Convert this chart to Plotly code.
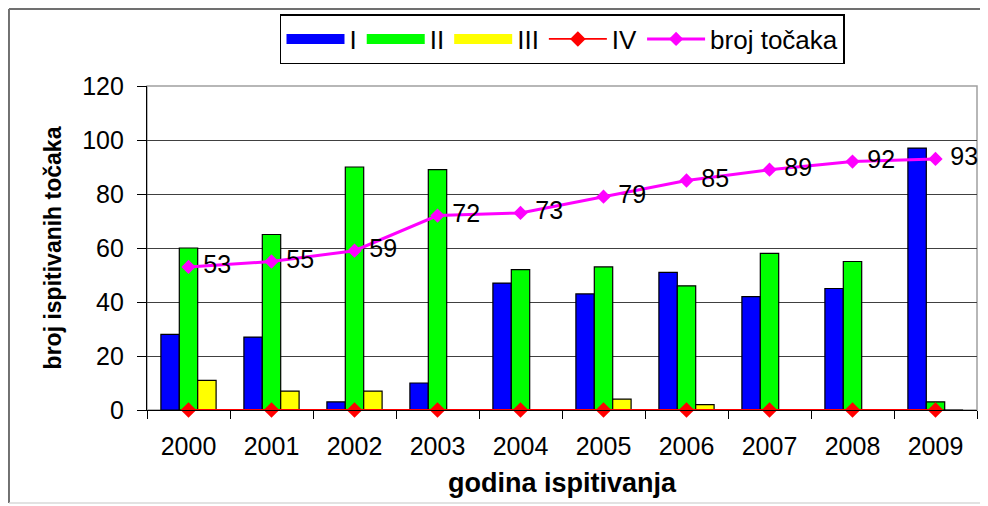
import plotly.graph_objects as go

years = ["2000", "2001", "2002", "2003", "2004", "2005", "2006", "2007", "2008", "2009"]
cat_I = [28, 27, 3, 10, 47, 43, 51, 42, 45, 97]
cat_II = [60, 65, 90, 89, 52, 53, 46, 58, 55, 3]
cat_III = [11, 7, 7, 0, 0, 4, 2, 0, 0, 0]
cat_IV = [0, 0, 0, 0, 0, 0, 0, 0, 0, 0]
broj_tocaka = [53, 55, 59, 72, 73, 79, 85, 89, 92, 93]
y_ticks = [0, 20, 40, 60, 80, 100, 120]

FONT = "Arial, Liberation Sans, sans-serif"

fig = go.Figure()

bar_series = [("I", cat_I, "#0000FF"), ("II", cat_II, "#00FF00"), ("III", cat_III, "#FFFF00")]
for name, vals, col in bar_series:
    fig.add_trace(go.Bar(x=years, y=vals, name=name, marker=dict(color=col, line=dict(color="black", width=1.2)),
                         showlegend=False, legendgroup=name))

fig.add_trace(go.Scatter(x=years, y=cat_IV, name="IV", mode="lines+markers",
                         line=dict(color="#FF0000", width=1.8),
                         marker=dict(symbol="diamond", size=12, color="#FF0000"),
                         cliponaxis=False, showlegend=False, legendgroup="IV"))
fig.add_trace(go.Scatter(x=years, y=broj_tocaka, name="broj točaka", mode="lines+markers+text",
                         line=dict(color="#FF00FF", width=3),
                         marker=dict(symbol="diamond", size=11, color="#FF00FF"),
                         text=[str(v) for v in broj_tocaka], texttemplate=" %{text}",
                         textposition="middle right",
                         textfont=dict(family=FONT, size=25, color="black"),
                         cliponaxis=False, showlegend=False, legendgroup="broj"))

# legend entries (wide swatches like the original)
for name, vals, col in bar_series:
    fig.add_trace(go.Scatter(x=[None], y=[None], name=name, mode="lines",
                             line=dict(color=col, width=13), legendgroup=name, showlegend=True))
fig.add_trace(go.Scatter(x=[None], y=[None], name="IV", mode="lines+markers",
                         line=dict(color="#FF0000", width=1.8),
                         marker=dict(symbol="diamond", size=12, color="#FF0000"),
                         legendgroup="IV", showlegend=True))
fig.add_trace(go.Scatter(x=[None], y=[None], name="broj točaka", mode="lines+markers",
                         line=dict(color="#FF00FF", width=3),
                         marker=dict(symbol="diamond", size=11, color="#FF00FF"),
                         legendgroup="broj", showlegend=True))

fig.update_layout(
    width=980, height=498,
    margin=dict(l=139, r=11, t=78, b=96, autoexpand=False),
    paper_bgcolor="white", plot_bgcolor="white",
    barmode="group", bargap=0.335, bargroupgap=0,
    font=dict(family=FONT, size=22, color="black"),
    legend=dict(orientation="h", x=0.5006, xanchor="center", y=1.222, yanchor="top",
                bordercolor="black", borderwidth=1.5, bgcolor="white",
                font=dict(family=FONT, size=26, color="black"), itemwidth=58,
                traceorder="normal"),
    xaxis=dict(type="category", range=[-0.5, len(years) - 0.5], showline=True, linecolor="black",
               linewidth=1.2, automargin=False,
               ticks="outside", tickson="boundaries", ticklen=8, tickcolor="black",
               ticklabelstandoff=14,
               tickfont=dict(family=FONT, size=25), showgrid=False,
               title=dict(text="godina ispitivanja", font=dict(family=FONT, size=27, weight="bold"), standoff=14)),
    yaxis=dict(range=[0, 120], tickvals=y_ticks, showline=True, linecolor="black", linewidth=1.2,
               automargin=False,
               ticks="outside", ticklen=9, tickcolor="black", ticklabelstandoff=8,
               tickfont=dict(family=FONT, size=25),
               showgrid=True, gridcolor="#404040", gridwidth=1, zeroline=False,
               title=dict(text="broj ispitivanih točaka", font=dict(family=FONT, size=23, weight="bold"), standoff=14)),
    shapes=[
        dict(type="rect", xref="paper", yref="paper", x0=0, x1=1, y0=0, y1=1,
             line=dict(color="#A0A0A0", width=1.5), layer="between"),
        # outer chart frame: dark left/top, faint bottom
        dict(type="line", xref="paper", yref="paper", x0=-0.1663, x1=-0.1663, y0=-0.287, y1=1.2377,
             line=dict(color="#707070", width=2), layer="below"),
        dict(type="line", xref="paper", yref="paper", x0=-0.1663, x1=1.1, y0=1.2377, y1=1.2377,
             line=dict(color="#707070", width=2), layer="below"),
        dict(type="line", xref="paper", yref="paper", x0=-0.1663, x1=1.1, y0=-0.287, y1=-0.287,
             line=dict(color="#D8D8D8", width=1.5), layer="below"),
    ],
)

fig.write_html("out.html")
